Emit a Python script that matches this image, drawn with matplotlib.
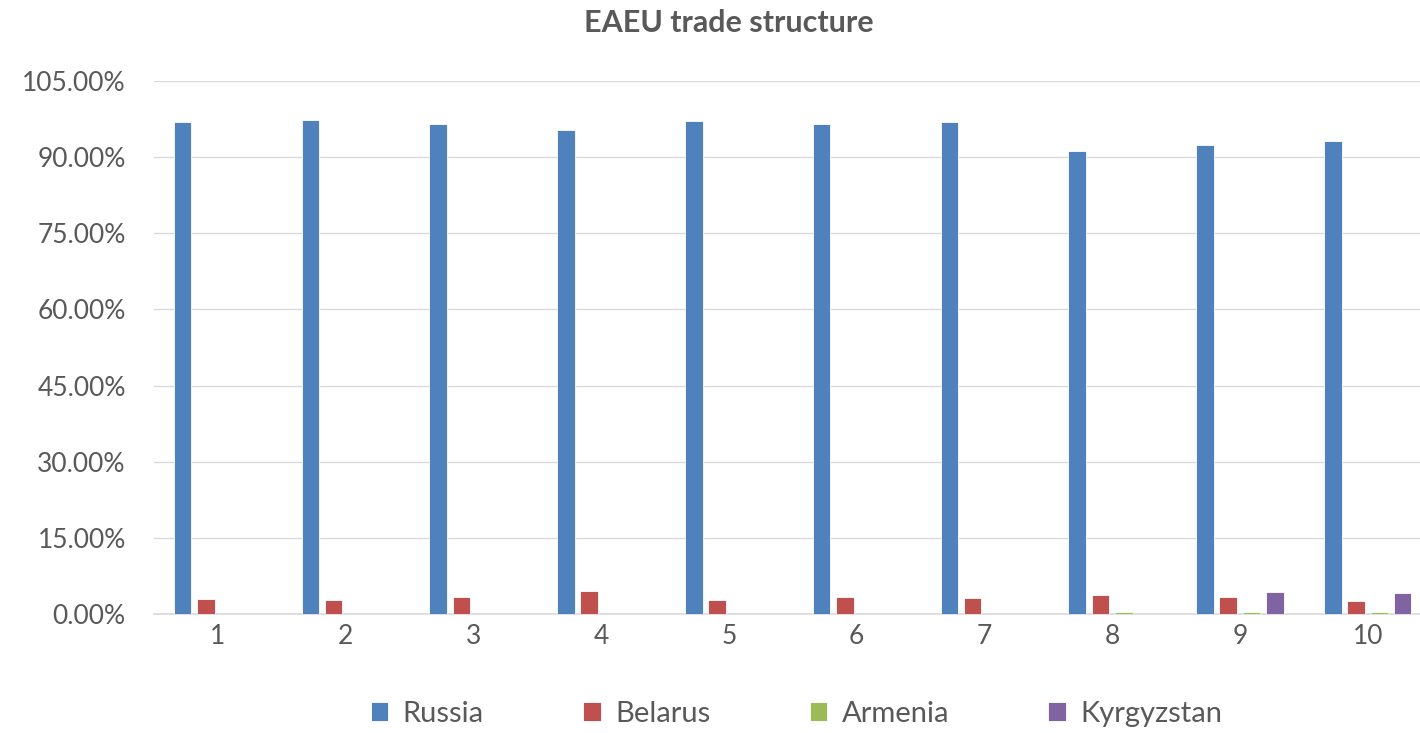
import numpy as np
import matplotlib
matplotlib.use("Agg")
import matplotlib.pyplot as plt
from matplotlib.ticker import FuncFormatter

plt.rcParams['font.family'] = ['Lato', 'DejaVu Sans']

groups = [1, 2, 3, 4, 5, 6, 7, 8, 9, 10]
russia = [96.9, 97.4, 96.5, 95.3, 97.1, 96.5, 96.9, 91.3, 92.4, 93.1]
belarus = [3.0, 2.8, 3.3, 4.5, 2.8, 3.3, 3.1, 3.8, 3.3, 2.5]
armenia = [0.0, 0.0, 0.0, 0.0, 0.0, 0.0, 0.0, 0.3, 0.3, 0.3]
kyrgyzstan = [0.0, 0.0, 0.0, 0.0, 0.0, 0.0, 0.0, 0.0, 4.3, 4.1]

series = [("Russia", russia, "#4F81BD"),
          ("Belarus", belarus, "#C0504D"),
          ("Armenia", armenia, "#9BBB59"),
          ("Kyrgyzstan", kyrgyzstan, "#8064A2")]

fig = plt.figure(figsize=(14.2, 7.33), dpi=100)
ax = fig.add_axes([153.6 / 1420, 1 - 614 / 733, 1278 / 1420, (614 - 81) / 733])

x = np.arange(len(groups))
slot = 0.182
width = 0.138
for i, (name, vals, col) in enumerate(series):
    offs = (i - 1.5) * slot
    ax.bar(x + offs, vals, width, color=col, label=name,
           edgecolor="white", linewidth=0.6, zorder=3)

ax.set_xlim(-0.5, len(groups) - 0.5)
ax.set_ylim(0, 105)
ax.set_yticks(np.arange(0, 106, 15))
ax.yaxis.set_major_formatter(FuncFormatter(lambda v, p: f"{v:.2f}%"))
ax.set_xticks(x)
ax.set_xticklabels([str(g) for g in groups])
ax.grid(axis='y', color='#d9d9d9', linewidth=1, zorder=0)
for s in ['top', 'right', 'left']:
    ax.spines[s].set_visible(False)
ax.spines['bottom'].set_color('#d9d9d9')
ax.spines['bottom'].set_linewidth(1.2)
ax.tick_params(axis='both', length=0, labelsize=19, labelcolor='#595959')
ax.tick_params(axis='x', pad=7)
ax.tick_params(axis='y', pad=20)

fig.text(0.513, 0.968, "EAEU trade structure", ha='center', va='center',
         fontsize=22, fontweight='bold', color='#595959')

leg = fig.legend(loc='center', bbox_to_anchor=(0.561, 0.026), ncol=4, frameon=False,
                 fontsize=21, handlelength=0.6, handleheight=0.6,
                 columnspacing=3.4, handletextpad=0.5, borderaxespad=0)
for t in leg.get_texts():
    t.set_color('#595959')

fig.savefig("out.png", dpi=100)
